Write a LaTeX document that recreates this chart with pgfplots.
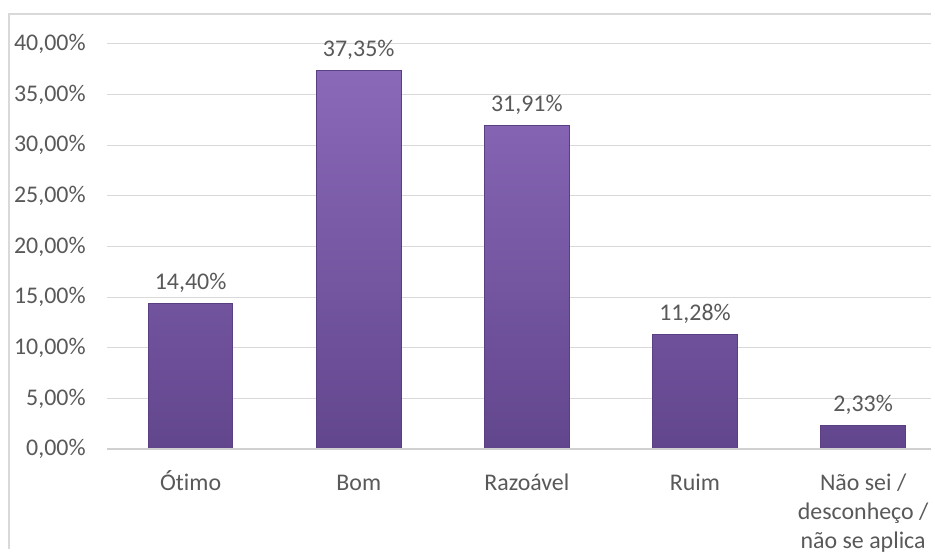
\documentclass[border=0pt]{standalone}
\usepackage{fontspec}
\setmainfont{Carlito}[Ligatures=NoCommon]
\usepackage{pgfplots}
\pgfplotsset{compat=1.18}
\definecolor{gridc}{HTML}{D9D9D9}
\definecolor{axisc}{HTML}{D0D0D0}
\definecolor{txt}{HTML}{595959}
\definecolor{bartop}{HTML}{8A69B9}
\definecolor{barbot}{HTML}{62468D}
\definecolor{baredge}{HTML}{5A3F82}
\begin{document}
\begin{tikzpicture}
\fill[white] (0pt,0pt) rectangle (467.5pt,-275.5pt);
\draw[gridc, line width=1pt] (4.5pt,-275.5pt) -- (4.5pt,-7pt) -- (467.5pt,-7pt);
\begin{axis}[
  at={(53.5pt,-225.5pt)}, anchor=south west,
  scale only axis,
  width=414pt, height=203.5pt,
  xmin=-0.5, xmax=4.405,
  ymin=0, ymax=40,
  ytick={0,5,...,40},
  xtick={0,1,2,3,4},
  xticklabels={Ótimo, Bom, Razoável, Ruim, {Não sei /\\desconheço /\\não se aplica}},
  typeset ticklabels with strut,
  axis line style={draw=none},
  major tick length=0pt,
  ymajorgrids,
  grid style={gridc, line width=0.6pt},
  /pgf/number format/assume math mode=true,
  yticklabel={\pgfmathprintnumber[fixed,fixed zerofill,precision=2,use comma]{\tick}\%},
  yticklabel style={font=\fontsize{12}{14.5}\selectfont, text=txt, xshift=-7pt},
  xticklabel style={font=\fontsize{12}{14.5}\selectfont, text=txt, align=center, anchor=north, yshift=-7pt},
  ybar, bar width=42.5pt,
  nodes near coords={\pgfmathprintnumber[fixed,fixed zerofill,precision=2,use comma]{\pgfplotspointmeta}\%},
  nodes near coords style={font=\fontsize{12}{14.5}\selectfont, text=txt, yshift=2pt},
  clip=false,
]
\addplot[draw=baredge, line width=0.5pt, top color=bartop, bottom color=barbot] coordinates {(0,14.40) (1,37.35) (2,31.91) (3,11.28) (4,2.33)};
\draw[axisc, line width=0.8pt] (axis cs:-0.5,0) -- (axis cs:4.405,0);
\end{axis}
\end{tikzpicture}
\end{document}
